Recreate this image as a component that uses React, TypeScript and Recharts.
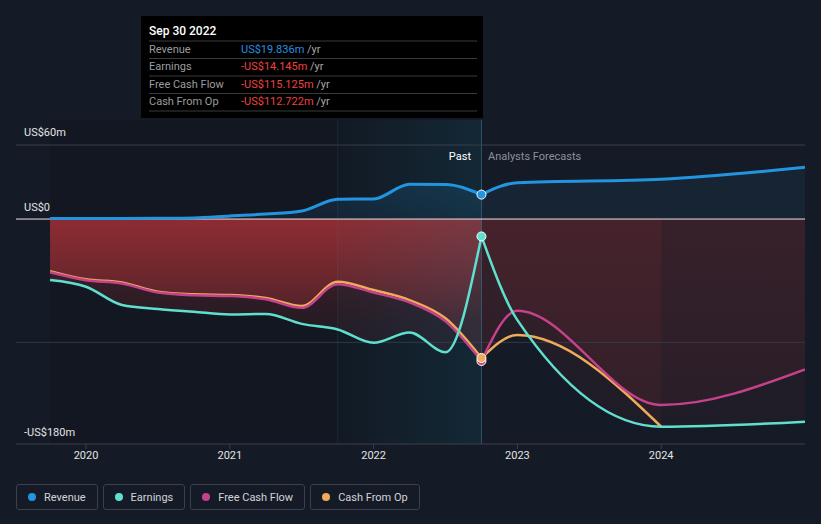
import React from 'react';
import {
  ComposedChart,
  Area,
  Line,
  XAxis,
  YAxis,
  ReferenceLine,
  ReferenceArea,
  ReferenceDot,
} from 'recharts';

// quarterly history (fractional years) and analyst forecast points
const pastDates = [
  2019.75, 2020.0, 2020.25, 2020.5, 2020.75, 2021.0, 2021.25, 2021.5, 2021.75, 2022.0, 2022.25,
  2022.5, 2022.75,
];
const revenuePast = [0.5, 0.5, 0.5, 0.6, 0.9, 2.5, 4.0, 6.5, 16.0, 16.3, 28.2, 28.0, 19.8];
const earningsPast = [-49.5, -54.9, -69.7, -73, -75.2, -77.3, -77, -85, -89.5, -100.3, -92, -108, -14.1];
const fcfPast = [-43.2, -49.6, -52.2, -59.6, -61.8, -62.4, -65, -72, -52.8, -59.6, -67.6, -83, -115.1];
const cfoPast = [-42.2, -48.9, -51.4, -58.9, -61, -61.6, -64, -70.5, -50.8, -57.6, -65.7, -80.5, -112.7];

const forecastDates = [2022.75, 2023.0, 2024.0, 2025.0];
const revenueForecast = [19.8, 29.5, 32.3, 42.0];
const earningsForecast = [-14.1, -82, -168.4, -164.3];
const fcfForecast = [-115.1, -74.3, -150.8, -121.9];
const cfoForecast: (number | null)[] = [-112.7, -94, -168.4, null];

const yearTicks = [2020, 2021, 2022, 2023, 2024];
const valueLabels = [
  { v: 60, text: 'US$60m', dy: -1 },
  { v: 0, text: 'US$0', dy: 0 },
  { v: -180, text: '-US$180m', dy: 3 },
];

const C = {
  bg: '#151b26',
  revenue: '#2394df',
  earnings: '#5fe0cf',
  fcf: '#c4428b',
  cfo: '#eeab5a',
  grid: '#3a3f49',
};

type Row = { t: number; [key: string]: number | null };
const byDate = new Map<number, Row>();
const put = (t: number, key: string, v: number | null) => {
  if (!byDate.has(t)) byDate.set(t, { t });
  byDate.get(t)![key] = v;
};
pastDates.forEach((t, i) => {
  put(t, 'revP', revenuePast[i]);
  put(t, 'earnP', earningsPast[i]);
  put(t, 'fcfP', fcfPast[i]);
  put(t, 'cfoP', cfoPast[i]);
});
forecastDates.forEach((t, i) => {
  put(t, 'revF', revenueForecast[i]);
  put(t, 'earnF', earningsForecast[i]);
  put(t, 'fcfF', fcfForecast[i]);
  put(t, 'cfoF', cfoForecast[i]);
});
const data = Array.from(byDate.values()).sort((a, b) => a.t - b.t);

const font = 'Roboto, "Noto Sans", sans-serif';

const tooltipRows = [
  { label: 'Revenue', value: 'US$19.836m', color: '#2a8fe0' },
  { label: 'Earnings', value: '-US$14.145m', color: '#f0413f' },
  { label: 'Free Cash Flow', value: '-US$115.125m', color: '#f0413f' },
  { label: 'Cash From Op', value: '-US$112.722m', color: '#f0413f' },
];

const legendItems = [
  { label: 'Revenue', color: C.revenue },
  { label: 'Earnings', color: C.earnings },
  { label: 'Free Cash Flow', color: C.fcf },
  { label: 'Cash From Op', color: C.cfo },
];

const areaProps = {
  type: 'monotone' as const,
  stroke: 'none',
  baseValue: 0,
  isAnimationActive: false,
  dot: false,
  activeDot: false,
  connectNulls: false,
};

const lineProps = {
  type: 'monotone' as const,
  strokeWidth: 2.5,
  isAnimationActive: false,
  dot: false,
  activeDot: false,
};

export default function App() {
  return (
    <div
      style={{
        position: 'fixed',
        left: 0,
        top: 0,
        width: 821,
        height: 524,
        background: C.bg,
        fontFamily: font,
        overflow: 'hidden',
      }}
    >
      <ComposedChart width={821} height={524} data={data} margin={{ top: 120, right: 16, bottom: 50, left: 16 }}>
        <defs>
          <linearGradient id="redPast" gradientUnits="userSpaceOnUse" x1="0" y1="219" x2="0" y2="444">
            <stop offset="0" stopColor="#b83438" stopOpacity={0.6} />
            <stop offset="0.45" stopColor="#b83438" stopOpacity={0.21} />
            <stop offset="1" stopColor="#b83438" stopOpacity={0.07} />
          </linearGradient>
          <linearGradient id="redFc" gradientUnits="userSpaceOnUse" x1="0" y1="219" x2="0" y2="444">
            <stop offset="0" stopColor="#b63438" stopOpacity={0.19} />
            <stop offset="1" stopColor="#b63438" stopOpacity={0.09} />
          </linearGradient>
          <linearGradient id="bluePast" gradientUnits="userSpaceOnUse" x1="0" y1="170" x2="0" y2="219">
            <stop offset="0" stopColor="#2394df" stopOpacity={0.3} />
            <stop offset="1" stopColor="#2394df" stopOpacity={0.15} />
          </linearGradient>
          <linearGradient id="band" gradientUnits="userSpaceOnUse" x1="337" y1="0" x2="481" y2="0">
            <stop offset="0" stopColor="#1a7d9e" stopOpacity={0.05} />
            <stop offset="1" stopColor="#1a7d9e" stopOpacity={0.33} />
          </linearGradient>
        </defs>

        <XAxis
          dataKey="t"
          type="number"
          domain={[2019.513, 2025.0]}
          allowDataOverflow
          ticks={yearTicks}
          interval={0}
          height={30}
          tickFormatter={(v: number) => String(v)}
          tick={{ fill: '#e4e4e4', fontSize: 11, fontFamily: font }}
          tickSize={5}
          axisLine={{ stroke: C.grid }}
          tickLine={{ stroke: C.grid }}
        />
        <YAxis type="number" domain={[-182.4, 80.3]} allowDataOverflow hide />

        <ReferenceArea x1={2019.75} x2={2022.75} fill="#000" fillOpacity={0.13} stroke="none" ifOverflow="visible" />

        <Area {...areaProps} dataKey="revP" fill="url(#bluePast)" />
        <Area {...areaProps} dataKey="revF" fill={C.revenue} fillOpacity={0.08} />
        <Area {...areaProps} dataKey="earnP" fill="url(#redPast)" />
        <Area {...areaProps} dataKey="fcfP" fill="url(#redPast)" />
        <Area {...areaProps} dataKey="cfoP" fill="url(#redPast)" />
        <Area {...areaProps} dataKey="earnF" fill="url(#redFc)" />
        <Area {...areaProps} dataKey="fcfF" fill="url(#redFc)" />
        <Area {...areaProps} dataKey="cfoF" fill="url(#redFc)" />

        <ReferenceArea x1={2021.75} x2={2022.75} fill="url(#band)" stroke="none" ifOverflow="visible" />

        <ReferenceLine y={-100} stroke={C.grid} strokeOpacity={0.8} />
        <ReferenceLine x={2021.75} stroke="#4a8aa0" strokeOpacity={0.15} />
        <ReferenceLine x={2022.75} stroke="#3a6a80" strokeOpacity={0.7} />
        {valueLabels.map((l) => (
          <ReferenceLine
            key={l.v}
            y={l.v}
            stroke={l.v === 0 ? '#f3e2e2' : l.v === 60 ? C.grid : 'none'}
            label={{
              value: l.text,
              position: 'insideBottomLeft',
              offset: 8,
              dy: l.dy,
              fill: '#e4e4e4',
              fontSize: 11,
              fontFamily: font,
            }}
          />
        ))}

        <Line {...lineProps} dataKey="cfoP" stroke={C.cfo} />
        <Line {...lineProps} dataKey="fcfP" stroke={C.fcf} />
        <Line {...lineProps} dataKey="earnP" stroke={C.earnings} />
        <Line {...lineProps} dataKey="revP" stroke={C.revenue} strokeWidth={3} />
        <Line {...lineProps} dataKey="cfoF" stroke={C.cfo} />
        <Line {...lineProps} dataKey="fcfF" stroke={C.fcf} />
        <Line {...lineProps} dataKey="earnF" stroke={C.earnings} />
        <Line {...lineProps} dataKey="revF" stroke={C.revenue} strokeWidth={3} />

        <ReferenceDot x={2022.75} y={fcfPast[fcfPast.length - 1]} r={4.5} fill={C.fcf} stroke="#fff" strokeWidth={1} />
        <ReferenceDot x={2022.75} y={cfoPast[cfoPast.length - 1]} r={4.5} fill={C.cfo} stroke="#fff" strokeWidth={1} />
        <ReferenceDot x={2022.75} y={earningsPast[earningsPast.length - 1]} r={4.5} fill={C.earnings} stroke="#fff" strokeWidth={1} />
        <ReferenceDot x={2022.75} y={revenuePast[revenuePast.length - 1]} r={4.5} fill={C.revenue} stroke="#fff" strokeWidth={1} />
      </ComposedChart>

      <svg width={821} height={524} style={{ position: 'absolute', left: 0, top: 0, pointerEvents: 'none' }}>
        <text x={471} y={160} textAnchor="end" fill="#ffffff" fontSize={11} fontFamily={font}>
          Past
        </text>
        <text x={488} y={160} fill="#8b9099" fontSize={11} fontFamily={font}>
          Analysts Forecasts
        </text>

        <rect x={141} y={16} width={342} height={102} fill="#000" />
        <text x={149} y={35} fill="#fff" fontSize={12} fontWeight={500} fontFamily={font}>
          Sep 30 2022
        </text>
        {[41, 58.5, 76, 93.5, 111].map((y) => (
          <line key={y} x1={149} x2={477} y1={y} y2={y} stroke="#3a3a3a" strokeWidth={1} />
        ))}
        {tooltipRows.map((r, i) => (
          <g key={r.label}>
            <text x={149} y={52.5 + i * 17.6} fill="#9c9c9c" fontSize={11} fontFamily={font}>
              {r.label}
            </text>
            <text x={241} y={52.5 + i * 17.6} fontSize={11} fontFamily={font}>
              <tspan fill={r.color}>{r.value}</tspan>
              <tspan fill="#a8a8a8"> /yr</tspan>
            </text>
          </g>
        ))}
      </svg>

      <div style={{ position: 'absolute', left: 16, top: 484, display: 'flex', gap: 5 }}>
        {legendItems.map((it) => (
          <div
            key={it.label}
            style={{
              height: 26,
              boxSizing: 'border-box',
              border: '1px solid #3b414c',
              borderRadius: 3,
              display: 'flex',
              alignItems: 'center',
              padding: '0 11px 0 11px',
              color: '#d2d4d8',
              fontSize: 11,
            }}
          >
            <span
              style={{
                width: 8,
                height: 8,
                borderRadius: 4,
                background: it.color,
                display: 'inline-block',
                marginRight: 8,
              }}
            />
            {it.label}
          </div>
        ))}
      </div>
    </div>
  );
}
